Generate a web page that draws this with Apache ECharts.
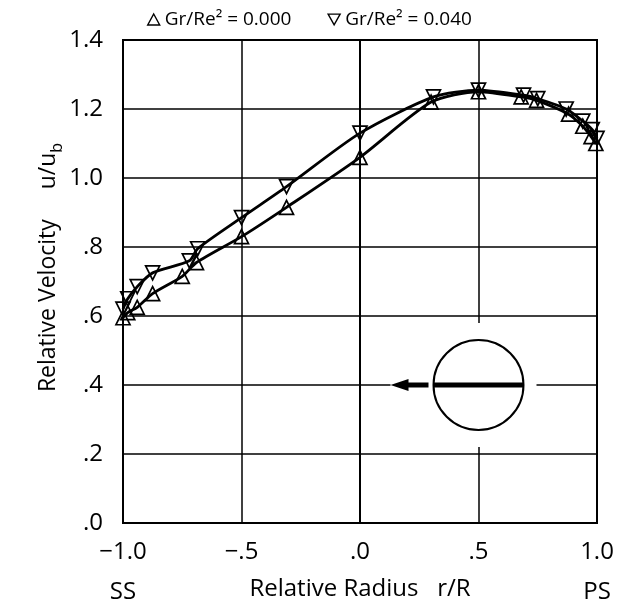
<!DOCTYPE html>
<html>
<head>
<meta charset="utf-8">
<script src="https://cdn.jsdelivr.net/npm/echarts@6/dist/echarts.min.js"></script>
<style>
    html, body { margin: 0; padding: 0; background: #fff; }
    #chart { width: 626px; height: 608px; }
</style>
</head>
<body>
<div id="chart"></div>
<script>
// Gr/Re^2 = 0.000 (upward triangles)
const radiusA = [-1.0, -0.98, -0.94, -0.875, -0.75, -0.69, -0.5, -0.31, 0.0, 0.30, 0.50, 0.68, 0.745, 0.88, 0.94, 0.975, 0.995];
const velocityA = [0.595, 0.61, 0.625, 0.665, 0.715, 0.755, 0.83, 0.915, 1.06, 1.22, 1.25, 1.235, 1.225, 1.185, 1.15, 1.12, 1.10];

// Gr/Re^2 = 0.040 (downward triangles)
const radiusB = [-1.0, -0.98, -0.94, -0.875, -0.72, -0.685, -0.5, -0.31, 0.0, 0.31, 0.50, 0.69, 0.75, 0.87, 0.94, 0.98, 1.0];
const velocityB = [0.62, 0.65, 0.685, 0.725, 0.76, 0.795, 0.885, 0.975, 1.13, 1.235, 1.255, 1.24, 1.23, 1.20, 1.165, 1.14, 1.115];

const seriesNames = ["Gr/Re\u00b2 = 0.000", "Gr/Re\u00b2 = 0.040"];

const xTicks = [-1.0, -0.5, 0.0, 0.5, 1.0];
const xTickLabels = ["\u22121.0", "\u2212.5", ".0", ".5", "1.0"];
const xSideLabels = ["SS", "", "", "", "PS"];
const yTickLabels = [".0", ".2", ".4", ".6", ".8", "1.0", "1.2", "1.4"];

const FONT = "Open Sans";

function pairs(xs, ys) {
    return xs.map(function (x, i) {
        return [x, ys[i]];
    });
}

function makeSeries(name, data, rotate) {
    return {
        name: name,
        type: "line",
        data: data,
        smooth: 0.25,
        symbol: "triangle",
        symbolSize: 14,
        symbolRotate: rotate,
        showAllSymbol: true,
        lineStyle: { color: "#000", width: 2.8 },
        itemStyle: { color: "rgba(0,0,0,0)", borderColor: "#000", borderWidth: 1.7 },
        emphasis: { disabled: true },
        z: 3,
    };
}

const chartDom = document.getElementById("chart");
const myChart = echarts.init(chartDom, null, { renderer: "canvas" });

const option = {
    animation: false,
    backgroundColor: "#fff",
    textStyle: { fontFamily: FONT, color: "#000" },
    legend: {
        top: 5,
        left: 142,
        itemGap: 36,
        itemWidth: 12,
        itemHeight: 11,
        textStyle: { fontFamily: FONT, fontSize: 19, color: "#000" },
        itemStyle: { color: "rgba(0,0,0,0)", borderColor: "#000", borderWidth: 1.4 },
        data: [
            { name: seriesNames[0], icon: "triangle" },
            { name: seriesNames[1], icon: "path://M0,0L10,0L5,9Z" },
        ],
    },
    grid: { left: 123, right: 29, top: 40, bottom: 85, outerBoundsMode: "none", containLabel: false },
    xAxis: {
        type: "value",
        min: -1,
        max: 1,
        interval: 0.5,
        name: "Relative Radius   r/R",
        nameLocation: "middle",
        nameGap: 54,
        nameMoveOverlap: false,
        nameTextStyle: { fontFamily: FONT, fontSize: 24, color: "#000" },
        axisLine: { show: true, onZero: false, lineStyle: { color: "#000", width: 2 } },
        axisTick: { show: false },
        splitLine: { show: true, lineStyle: { color: "#000", width: 1.5 } },
        axisLabel: {
            margin: 9,
            fontFamily: FONT,
            fontSize: 24,
            color: "#000",
            lineHeight: 40,
            formatter: function (v) {
                const i = xTicks.findIndex(function (t) { return Math.abs(t - v) < 1e-6; });
                if (i < 0) return "";
                return xSideLabels[i] ? xTickLabels[i] + "\n" + xSideLabels[i] : xTickLabels[i];
            },
        },
    },
    yAxis: {
        type: "value",
        min: 0,
        max: 1.4,
        interval: 0.2,
        name: "{n|Relative Velocity     u/u}{s|b}",
        nameLocation: "middle",
        nameGap: 63,
        nameMoveOverlap: false,
        nameTextStyle: {
            fontFamily: FONT,
            color: "#000",
            padding: [0, 0, 0, 28],
            rich: {
                n: { fontFamily: FONT, fontSize: 23, color: "#000", lineHeight: 28, verticalAlign: "bottom" },
                s: { fontFamily: FONT, fontSize: 16, color: "#000", lineHeight: 28, verticalAlign: "bottom", padding: [0, 0, -5, 0] },
            },
        },
        axisLine: { show: true, lineStyle: { color: "#000", width: 2 } },
        axisTick: { show: false },
        splitLine: { show: true, lineStyle: { color: "#000", width: 1.5 } },
        axisLabel: {
            margin: 20,
            fontFamily: FONT,
            fontSize: 24,
            color: "#000",
            formatter: function (v) {
                return yTickLabels[Math.round(v / 0.2)];
            },
        },
    },
    series: [
        makeSeries(seriesNames[0], pairs(radiusA, velocityA), 0),
        makeSeries(seriesNames[1], pairs(radiusB, velocityB), 180),
    ],
};

option && myChart.setOption(option);

// frame on top and right, plus the pipe cross-section inset
function drawExtras() {
    const c = myChart.convertToPixel({ gridIndex: 0 }, [0.5, 0.4]);
    const tl = myChart.convertToPixel({ gridIndex: 0 }, [-1, 1.4]);
    const br = myChart.convertToPixel({ gridIndex: 0 }, [1, 0]);
    const r = 45;
    myChart.setOption({
        graphic: [
            {
                type: "rect",
                shape: { x: tl[0], y: tl[1], width: br[0] - tl[0], height: br[1] - tl[1] },
                style: { fill: null, stroke: "#000", lineWidth: 2 },
                z: 5,
            },
            {
                type: "rect",
                shape: { x: c[0] - 88, y: c[1] - 62, width: 146, height: 124 },
                style: { fill: "#fff" },
                z: 6,
            },
            {
                type: "circle",
                shape: { cx: c[0], cy: c[1], r: r },
                style: { fill: "#fff", stroke: "#000", lineWidth: 2 },
                z: 7,
            },
            {
                type: "line",
                shape: { x1: c[0] - r, y1: c[1], x2: c[0] + r, y2: c[1] },
                style: { stroke: "#000", lineWidth: 5 },
                z: 8,
            },
            {
                type: "line",
                shape: { x1: c[0] - 72, y1: c[1], x2: c[0] - r - 5, y2: c[1] },
                style: { stroke: "#000", lineWidth: 5 },
                z: 8,
            },
            {
                type: "polygon",
                shape: { points: [[c[0] - 88, c[1]], [c[0] - 70, c[1] - 6], [c[0] - 70, c[1] + 6]] },
                style: { fill: "#000" },
                z: 8,
            },
        ],
    });
}
drawExtras();
</script>
</body>
</html>
